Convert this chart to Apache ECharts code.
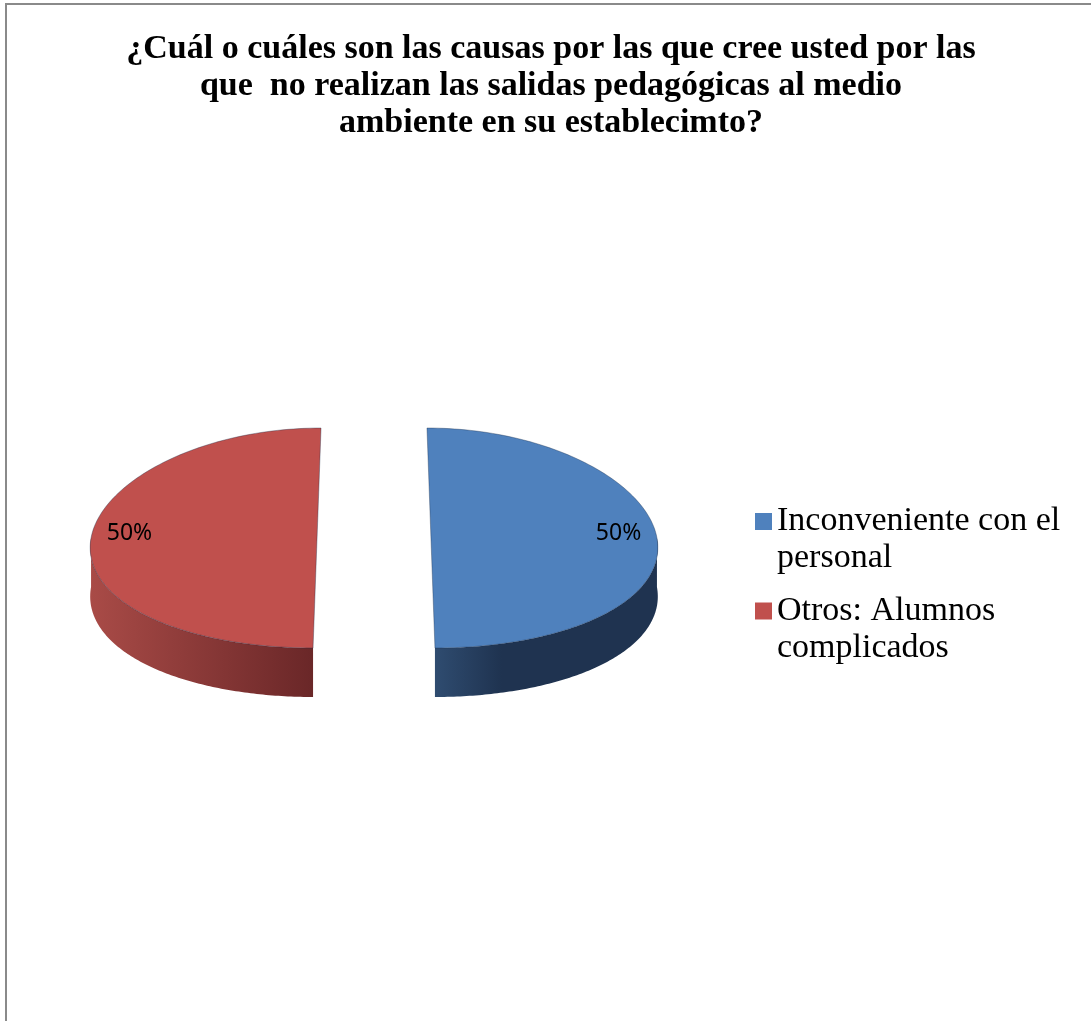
<!DOCTYPE html>
<html><head><meta charset="utf-8">
<script src="https://cdn.jsdelivr.net/npm/echarts@6/dist/echarts.min.js"></script>
<style>html,body{margin:0;padding:0;background:#fff}#chart{width:1091px;height:1021px}</style>
</head><body><div id="chart"></div>
<script>
// ---- data ----
const titleText = '¿Cuál o cuáles son las causas por las que cree usted por las\nque  no realizan las salidas pedagógicas al medio\nambiente en su establecimto?';
const categories = ['Inconveniente con el personal', 'Otros: Alumnos complicados'];
const values = [50, 50];
const legendLabels = ['Inconveniente con el\npersonal', 'Otros: Alumnos\ncomplicados'];

// ---- style ----
const topColors = ['#4f81bd', '#c0504d'];
const sideColors = [['#2f4c70', '#1f3350'], ['#a94b47', '#6a2728']];
const CX = 374, CY = 538, RX = 226, RY = 110, DEPTH = 49, PERSP = 0.07, EXPLODE = 0.252;

function proj(X, Y, z) {
  return [CX + X * RX * (1 + PERSP * Y), CY + Y * RY + z];
}

function makeRender(i) {
  return function (params, api) {
    const total = values.reduce((a, b) => a + b, 0);
    let start = -90;
    for (let j = 0; j < i; j++) start += values[j] / total * 360;
    const v = api.value(0);
    const end = start + v / total * 360;
    const midR = (start + end) / 2 * Math.PI / 180;
    const ox = EXPLODE * Math.cos(midR), oy = EXPLODE * Math.sin(midR);
    const N = 120;
    const arc = (a, b, z) => {
      const pts = [];
      for (let s = 0; s <= N; s++) {
        const t = (a + (b - a) * s / N) * Math.PI / 180;
        pts.push(proj(ox + Math.cos(t), oy + Math.sin(t), z));
      }
      return pts;
    };
    const children = [];
    // visible side wall: part of [start,end] facing viewer (0..180 deg)
    for (let k = -1; k <= 1; k++) {
      const a = Math.max(start, 0 + 360 * k), b = Math.min(end, 180 + 360 * k);
      if (b > a) {
        const upper = arc(a, b, 0);
        const lower = arc(a, b, DEPTH).reverse();
        const xs = upper.map(p => p[0]);
        const x0 = Math.min(...xs), x1 = Math.max(...xs);
        const c = sideColors[i];
        children.push({
          type: 'polygon',
          shape: { points: upper.concat(lower) },
          style: {
            fill: new echarts.graphic.LinearGradient(x0, 0, x1, 0,
              i === 0 ? [{ offset: 0, color: c[0] }, { offset: 0.3, color: c[1] }, { offset: 1, color: c[1] }]
                      : [{ offset: 0, color: c[0] }, { offset: 1, color: c[1] }], true),
            stroke: null
          }
        });
      }
    }
    // top face
    const topPts = [proj(ox, oy, 0)].concat(arc(start, end, 0));
    children.push({
      type: 'polygon',
      shape: { points: topPts },
      style: { fill: topColors[i], stroke: 'rgba(20,40,70,0.35)', lineWidth: 1 }
    });
    // label
    const lp = proj(ox + 0.83 * Math.cos(midR), oy + 0.83 * Math.sin(midR), 0);
    children.push({
      type: 'text',
      x: lp[0], y: lp[1] - 5,
      style: {
        text: Math.round(v / total * 100) + '%',
        fill: '#000', font: '23px "Noto Sans"',
        align: 'center', verticalAlign: 'middle'
      }
    });
    return { type: 'group', children: children };
  };
}

const series = categories.map((name, i) => ({
  type: 'custom',
  name: name,
  coordinateSystem: 'none',
  itemStyle: { color: topColors[i] },
  data: [[values[i]]],
  renderItem: makeRender(i),
  silent: true
}));

const chart = echarts.init(document.getElementById('chart'), null, { renderer: 'canvas' });
chart.setOption({
  backgroundColor: '#fff',
  animation: false,
  title: {
    text: titleText,
    left: 551,
    textAlign: 'center',
    top: 31,
    padding: 0,
    textStyle: {
      fontFamily: '"Liberation Serif"', fontWeight: 'bold', fontSize: 34,
      lineHeight: 37, color: '#000'
    }
  },
  legend: {
    orient: 'vertical',
    left: 755,
    top: 466,
    padding: 0,
    itemGap: -21.5,
    itemWidth: 17,
    itemHeight: 17,
    icon: 'rect',
    data: categories,
    // leading blank line keeps the first text line level with the icon
    formatter: name => '\n' + legendLabels[categories.indexOf(name)],
    textStyle: {
      fontFamily: '"Liberation Serif"', fontSize: 34, lineHeight: 37, color: '#000'
    }
  },
  graphic: [{
    type: 'rect', silent: true, z: 100,
    shape: { x: 6, y: 4, width: 1300, height: 1300 },
    style: { fill: 'none', stroke: '#8a8a8a', lineWidth: 2 }
  }],
  series: series
});
</script></body></html>
